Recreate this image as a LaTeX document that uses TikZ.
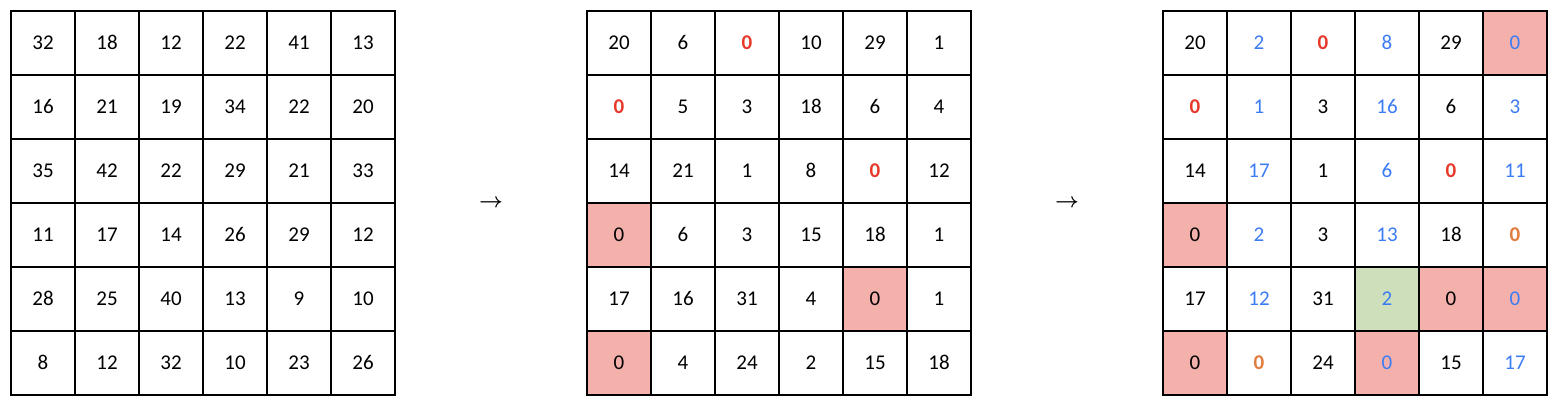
\documentclass[tikz,border=0pt]{standalone}
\usepackage{fontspec}
\setmainfont{Carlito}
\usepackage{tikz}
\usetikzlibrary{positioning, calc}

\definecolor{numblue}{HTML}{3B7CF4}
\definecolor{numred}{HTML}{E8392C}
\definecolor{numorange}{HTML}{E07C3E}
\definecolor{hitpink}{HTML}{F4B0AB}
\definecolor{hitgreen}{HTML}{CDE0BB}

\begin{document}
\begin{tikzpicture}[
      x=1pt, y=-1pt,
      cell/.style ={rectangle, draw, line width=2pt, minimum size=64pt, inner sep=0pt,
                    text height=13pt, text depth=0pt,
                    font=\fontsize{21}{24}\selectfont},
      pl/.style   ={},
      bl/.style   ={text=numblue},
      rd/.style   ={text=numred, font=\fontsize{21}{24}\selectfont\bfseries},
      og/.style   ={text=numorange, font=\fontsize{21}{24}\selectfont\bfseries},
      pk/.style   ={fill=hitpink},
      pkb/.style  ={fill=hitpink, text=numblue},
      gnb/.style  ={fill=hitgreen, text=numblue},
      step arrow/.style={font=\fontsize{22}{24}\selectfont\boldmath}
    ]
    \useasboundingbox (0,0) rectangle (1558,408);

    % Startmatrise
    \foreach \row [count=\i] in {
        {32,18,12,22,41,13},
        {16,21,19,34,22,20},
        {35,42,22,29,21,33},
        {11,17,14,26,29,12},
        {28,25,40,13,9,10},
        {8,12,32,10,23,26}}
      \foreach \v [count=\j] in \row
        \node[cell] (a-\i-\j) at ({11+32+64*(\j-1)}, {11+32+64*(\i-1)}) {\v};

    % Etter radreduksjon
    \foreach \row [count=\i] in {
        {pl/20,pl/6,rd/0,pl/10,pl/29,pl/1},
        {rd/0,pl/5,pl/3,pl/18,pl/6,pl/4},
        {pl/14,pl/21,pl/1,pl/8,rd/0,pl/12},
        {pk/0,pl/6,pl/3,pl/15,pl/18,pl/1},
        {pl/17,pl/16,pl/31,pl/4,pk/0,pl/1},
        {pk/0,pl/4,pl/24,pl/2,pl/15,pl/18}}
      \foreach \s/\v [count=\j] in \row
        \node[cell, \s] (b-\i-\j) at ({587+32+64*(\j-1)}, {11+32+64*(\i-1)}) {\v};

    % Etter kolonnereduksjon
    \foreach \row [count=\i] in {
        {pl/20,bl/2,rd/0,bl/8,pl/29,pkb/0},
        {rd/0,bl/1,pl/3,bl/16,pl/6,bl/3},
        {pl/14,bl/17,pl/1,bl/6,rd/0,bl/11},
        {pk/0,bl/2,pl/3,bl/13,pl/18,og/0},
        {pl/17,bl/12,pl/31,gnb/2,pk/0,pkb/0},
        {pk/0,og/0,pl/24,pkb/0,pl/15,bl/17}}
      \foreach \s/\v [count=\j] in \row
        \node[cell, \s] (c-\i-\j) at ({1163+32+64*(\j-1)}, {11+32+64*(\i-1)}) {\v};

    % Piler mellom matrisene
    \node[step arrow] (s1) at ($(a-3-6.south east)!0.5!(b-4-1.north west)$) {$\rightarrow$};
    \node[step arrow] (s2) at ($(b-3-6.south east)!0.5!(c-4-1.north west)$) {$\rightarrow$};

  \end{tikzpicture}
\end{document}
